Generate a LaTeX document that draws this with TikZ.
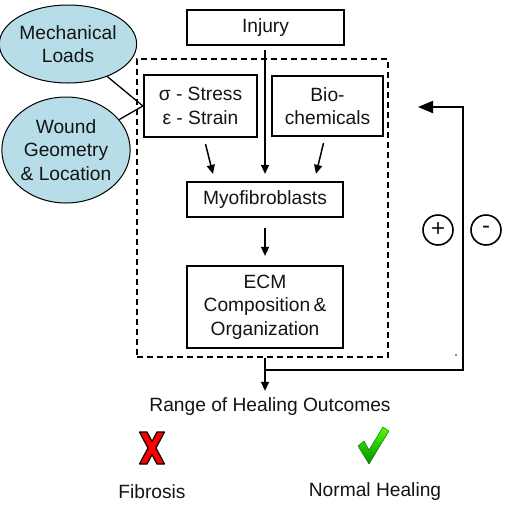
\documentclass[tikz,border=0pt]{standalone}
\usepackage{fontspec}
\setmainfont{Liberation Sans}
\usetikzlibrary{arrows.meta,shapes.geometric,calc}
\definecolor{aqua}{RGB}{183,222,232}
\definecolor{txt}{RGB}{20,20,20}
\tikzset{
  lbl/.style={font=\fontsize{19.2}{23.5}\selectfont, text=txt, align=center, inner sep=0pt},
  boxn/.style={lbl, draw=black, line width=2.2pt, rectangle},
  ell/.style={lbl, draw=black, line width=1pt, ellipse, fill=aqua},
  arr/.style={line width=1.5pt, -{Triangle[length=9pt,width=8pt]}},
  bigarr/.style={line width=2pt, -{Triangle[length=15pt,width=12pt]}},
  conn/.style={line width=1.3pt},
  pm/.style={lbl, font=\fontsize{24}{24}\selectfont, draw=black, line width=1.6pt, circle, minimum size=30pt},
}
\begin{document}
\begin{tikzpicture}[x=1pt,y=-1pt]
\useasboundingbox (0,0) rectangle (505,504);
\fill[white] (0,0) rectangle (505,504);
% group
\node[draw=black, line width=1.3pt, dash pattern=on 6pt off 4pt, rectangle,
      minimum width=251pt, minimum height=298pt, inner sep=0pt] (group) at (262.5,208) {};
% boxes
\node[boxn, minimum width=157pt, minimum height=35pt] (injury) at (265.5,27.5) {Injury};
\node[boxn, minimum width=113pt, minimum height=62pt] (stress) at (200.5,106) {σ - Stress\\ε - Strain};
\node[boxn, minimum width=111pt, minimum height=60pt] (bio) at (327.5,106) {Bio-\\chemicals};
\node[boxn, minimum width=156pt, minimum height=35pt] (myo) at (265,199.5) {Myofibroblasts};
\node[boxn, minimum width=156pt, minimum height=82pt] (ecm) at (265,307) {ECM\\Composition\,\&\\Organization};
% ellipses
\node[ell, minimum width=130pt, minimum height=78pt] (mech) at (68,44) {Mechanical\\Loads};
\node[ell, minimum width=128pt, minimum height=106pt] (wound) at (66,150) {Wound\\Geometry\\\&\ Location};
\draw[conn] (mech) -- (stress.west);
\draw[conn] (wound) -- (stress.west);
% arrows into myofibroblasts
\draw[arr] ($(stress.south)+(5,6)$) -- ($(myo.north)+(-52,-7)$);
\draw[arr] ($(injury.south -| myo.north)+(0,4)$) -- ($(myo.north)+(0,-7)$);
\draw[arr] ($(bio.south)+(-4,6)$) -- ($(myo.north)+(51,-7)$);
\draw[arr] ($(myo.south)+(0,10)$) -- ($(ecm.north)+(0,-9)$);
% outcome
\node[lbl] (range) at (270,407) {Range of Healing Outcomes};
\coordinate (split) at (265,370);
\draw[arr] (group.south -| myo.south) -- ($(range.north -| myo.south)+(0,-7)$);
% feedback loop
\coordinate (fbcorner) at (463,370);
\coordinate (fbtip) at (418,107);
\draw[bigarr] (split) -| (fbtip -| fbcorner) -- (fbtip);
\node[pm] (plus) at (438,230) {+};
\node[pm] (minus) at (486,230) {-};
\node[circle, fill=txt, inner sep=0pt, minimum size=1.8pt] (dot) at (456,355) {};
% X mark
\node[inner sep=0pt, minimum width=25pt, minimum height=33pt] (xmark) at (152,448) {};
\begin{scope}[shift={(xmark.center)}]
\draw[fill=red, draw=black, line width=1.2pt, line join=round]
  (-12.5,-16) -- (-5,-16) -- (0,-6.5) -- (5,-16) -- (12.5,-16) -- (4,0)
  -- (12.5,16) -- (5,16) -- (0,6.5) -- (-5,16) -- (-12.5,16) -- (-4,0) -- cycle;
\end{scope}
\node[lbl] (fib) at (152,492) {Fibrosis};
% check mark
\node[inner sep=0pt, minimum width=31pt, minimum height=37pt] (check) at (373,445) {};
\begin{scope}[shift={(check.center)}]
\shade[top color=green!60!lime, bottom color=green!55!black, draw=green!40!black, line width=0.4pt]
  (-15,1) -- (-9,-4) -- (-4,5) -- (10,-18) -- (16,-14) -- (-4,19) -- cycle;
\end{scope}
\node[lbl] (normal) at (375,492) {Normal Healing};
\end{tikzpicture}
\end{document}
